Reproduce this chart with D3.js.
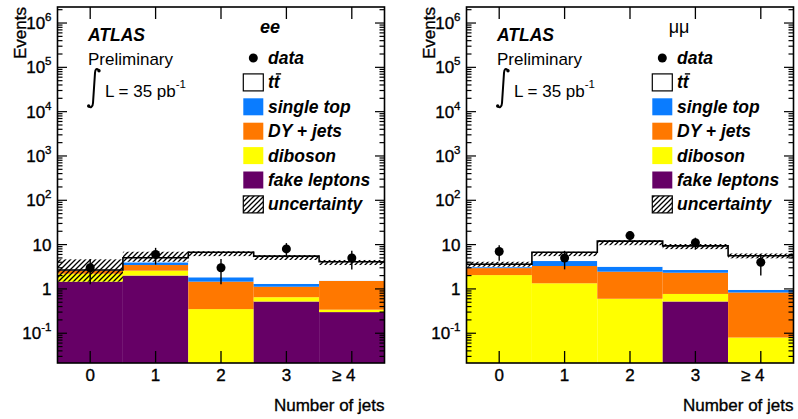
<!DOCTYPE html>
<html><head><meta charset="utf-8">
<script src="https://cdn.jsdelivr.net/npm/d3@7/dist/d3.min.js"></script>
<style>body{margin:0;background:#fff} svg{display:block} text{font-family:"Liberation Sans",Arial,Helvetica,sans-serif} text.reg{stroke:#000;stroke-width:0.35px}</style>
</head><body>
<svg id="c" width="798" height="419"></svg>
<script>
// ---- data ----
const categories = ["0", "1", "2", "3", "\u2265 4"];

// ee channel (stack components, bottom to top)
const eeFake      = [1.46, 2.00, 0.00, 0.52, 0.30];
const eeDiboson   = [0.74, 0.58, 0.35, 0.13, 0.04];
const eeDY        = [0.38, 0.88, 1.11, 0.47, 1.17];
const eeSingleTop = [0.03, 0.52, 0.37, 0.18, 0.02];
const eeTtbar     = [0.06, 1.07, 4.87, 4.20, 2.57];
const eeUncLow    = [1.46, 4.10, 5.50, 4.50, 3.46];
const eeUncHigh   = [4.65, 6.90, 7.10, 5.80, 4.50];
const eeData      = [3, 6, 3, 8, 5];
const eeDataErr   = [1.73, 2.45, 1.73, 2.83, 2.24];

// mumu channel
const mmFake      = [0.00, 0.00, 0.00, 0.52, 0.00];
const mmDiboson   = [2.05, 1.34, 0.60, 0.25, 0.08];
const mmDY        = [0.90, 1.95, 1.85, 1.55, 0.75];
const mmSingleTop = [0.15, 0.97, 0.72, 0.35, 0.12];
const mmTtbar     = [0.50, 2.44, 8.80, 6.70, 4.65];
const mmUncLow    = [3.17, 5.50, 9.70, 7.90, 4.90];
const mmUncHigh   = [4.10, 6.90, 12.6, 10.3, 6.30];
const mmData      = [7, 5, 16, 11, 4];
const mmDataErr   = [2.65, 2.24, 4.00, 3.32, 2.00];

const yTickExponents = [-1, 0, 1, 2, 3, 4, 5, 6];
const legendLabels = ["data", "tt", "single top", "DY + jets", "diboson", "fake leptons", "uncertainty"];
const compColors = ["#660066", "#ffff00", "#ff7800", "#0a7cff", "#ffffff"];

// ---- drawing ----
const svg = d3.select("#c");
const defs = svg.append("defs");
const pat = defs.append("pattern").attr("id", "hatch").attr("patternUnits", "userSpaceOnUse")
  .attr("width", 5).attr("height", 5);
pat.append("path").attr("d", "M-1,1 L1,-1 M0,5 L5,0 M4,6 L6,4")
  .attr("stroke", "#000").attr("stroke-width", 1.3);

const plotTop = 7, plotBottom = 363, panelW = 327;

function drawPanel(ox, ch) {
  const g = svg.append("g");
  const x0 = 57.5 + ox, x1 = x0 + panelW;
  const x = d3.scaleLinear().domain([-0.5, 4.5]).range([x0, x1]);
  const y = d3.scaleLog().domain([0.0213, 2.3e6]).range([plotBottom, plotTop]).clamp(true);
  const comps = [ch.fake, ch.diboson, ch.dy, ch.st, ch.tt];
  const totals = categories.map((c, i) => comps.reduce((s, a) => s + a[i], 0));

  // stacked bars
  categories.forEach((c, i) => {
    let cum = 0;
    comps.forEach((arr, k) => {
      const v = arr[i];
      const lo = cum; cum += v;
      if (v <= 0) return;
      const yTop = y(cum), yBot = lo > 0 ? y(lo) : plotBottom;
      g.append("rect").attr("x", x(i - 0.5)).attr("width", x(i + 0.5) - x(i - 0.5))
        .attr("y", yTop).attr("height", Math.max(0, yBot - yTop))
        .attr("fill", compColors[k]);
    });
  });

  // total step line
  const pts = [];
  totals.forEach((t, i) => { pts.push([i - 0.5, t]); pts.push([i + 0.5, t]); });
  g.append("path").attr("d", d3.line().x(d => x(d[0])).y(d => y(d[1]))(pts))
    .attr("fill", "none").attr("stroke", "#000").attr("stroke-width", 1.6);

  // uncertainty band
  categories.forEach((c, i) => {
    g.append("rect").attr("x", x(i - 0.5)).attr("width", x(i + 0.5) - x(i - 0.5))
      .attr("y", y(ch.uncHigh[i])).attr("height", y(ch.uncLow[i]) - y(ch.uncHigh[i]))
      .attr("fill", "url(#hatch)");
  });

  // data
  categories.forEach((c, i) => {
    g.append("line").attr("x1", x(i)).attr("x2", x(i))
      .attr("y1", y(ch.data[i] + ch.err[i])).attr("y2", y(ch.data[i] - ch.err[i]))
      .attr("stroke", "#000").attr("stroke-width", 1.4);
    g.append("circle").attr("cx", x(i)).attr("cy", y(ch.data[i])).attr("r", 4.5).attr("fill", "#000");
  });

  // frame
  g.append("rect").attr("x", x0).attr("y", plotTop).attr("width", x1 - x0).attr("height", plotBottom - plotTop)
    .attr("fill", "none").attr("stroke", "#000").attr("stroke-width", 1.6);

  // y ticks
  const [dmin, dmax] = y.domain();
  for (let e = -2; e <= 6; e++) {
    for (let m = 1; m <= 9; m++) {
      const v = m * Math.pow(10, e);
      if (v < dmin || v > dmax) continue;
      const len = m === 1 ? 9.5 : 5;
      const yy = y(v);
      g.append("line").attr("x1", x0).attr("x2", x0 + len).attr("y1", yy).attr("y2", yy).attr("stroke", "#000").attr("stroke-width", 1.2);
      g.append("line").attr("x1", x1).attr("x2", x1 - len).attr("y1", yy).attr("y2", yy).attr("stroke", "#000").attr("stroke-width", 1.2);
    }
  }
  // y tick labels
  yTickExponents.forEach(e => {
    const yy = y(Math.pow(10, e));
    const t = g.append("text").attr("class", "reg").attr("x", x0 - 6).attr("y", yy + 6).attr("text-anchor", "end")
      .attr("font-size", 17).attr("fill", "#000");
    if (e === 0) t.text("1");
    else if (e === 1) t.text("10");
    else {
      t.append("tspan").text("10");
      t.append("tspan").attr("font-size", 11.5).attr("dy", -8).text(String(e));
    }
  });

  // x ticks & labels
  categories.forEach((c, i) => {
    g.append("line").attr("x1", x(i)).attr("x2", x(i)).attr("y1", plotBottom).attr("y2", plotBottom - 12).attr("stroke", "#000").attr("stroke-width", 1.3);
    g.append("line").attr("x1", x(i)).attr("x2", x(i)).attr("y1", plotTop).attr("y2", plotTop + 12).attr("stroke", "#000").attr("stroke-width", 1.3);
    g.append("text").attr("class", "reg").attr("x", x(i) + (i === 4 ? -8 : 0)).attr("y", 381).attr("text-anchor", "middle")
      .attr("font-size", 17).text(c);
  });

  // axis titles
  g.append("text").attr("class", "reg").attr("x", x1).attr("y", 411).attr("text-anchor", "end").attr("font-size", 17).text("Number of jets");
  g.append("text").attr("class", "reg").attr("transform", `translate(${26 + ox},7) rotate(-90)`).attr("text-anchor", "end")
    .attr("font-size", 17).text("Events");

  // ATLAS labels
  g.append("text").attr("x", 88 + ox).attr("y", 41).attr("font-size", 17.5).attr("font-weight", "bold")
    .attr("font-style", "italic").text("ATLAS");
  g.append("text").attr("x", 88 + ox).attr("y", 65).attr("font-size", 17).text("Preliminary");
  g.append("path").attr("d", `M${99 + ox},70.5 C${97 + ox},67.5 ${95.2 + ox},69 ${95 + ox},73 L${93 + ox},103 C${92.8 + ox},107 ${90.5 + ox},108.5 ${88.5 + ox},106`)
    .attr("fill", "none").attr("stroke", "#000").attr("stroke-width", 2);
  g.append("circle").attr("cx", 99 + ox).attr("cy", 70.8).attr("r", 1.7);
  g.append("circle").attr("cx", 88.7 + ox).attr("cy", 106).attr("r", 1.7);
  const lt = g.append("text").attr("x", 105 + ox).attr("y", 97).attr("font-size", 17);
  lt.append("tspan").text("L = 35 pb");
  lt.append("tspan").attr("font-size", 11.5).attr("dy", -9).text("-1");

  // channel label
  const chl = g.append("text").attr("x", 270 + ox).attr("y", 33).attr("text-anchor", "middle").attr("font-size", 18).text(ch.label);
  if (ch.label === "ee") chl.attr("font-weight", "bold").attr("font-style", "italic");

  // legend
  const lx = 243.3 + ox, tx = 268 + ox;
  legendLabels.forEach((lab, k) => {
    const cy = 58 + 24.4 * k;
    if (k === 0) {
      g.append("circle").attr("cx", lx + 10).attr("cy", cy).attr("r", 4.5).attr("fill", "#000");
    } else {
      const fill = k === 6 ? "url(#hatch)" : compColors[5 - k];
      g.append("rect").attr("x", lx).attr("y", cy - 8.5).attr("width", 20).attr("height", 17)
        .attr("fill", fill).attr("stroke", (k === 1 || k === 6) ? "#000" : "none").attr("stroke-width", 1.2);
    }
    const t = g.append("text").attr("x", tx).attr("y", cy + 6).attr("font-size", 17.5)
      .attr("font-weight", "bold").attr("font-style", "italic").text(lab);
    if (k === 1) {
      const w1 = t.node().getSubStringLength(0, 1), w2 = t.node().getComputedTextLength();
      g.append("line").attr("x1", tx + w1 + 2).attr("x2", tx + w2 + 1.5).attr("y1", cy - 8.5).attr("y2", cy - 8.5)
        .attr("stroke", "#000").attr("stroke-width", 1.4);
    }
  });
}

drawPanel(0, { label: "ee", fake: eeFake, diboson: eeDiboson, dy: eeDY, st: eeSingleTop, tt: eeTtbar,
  uncLow: eeUncLow, uncHigh: eeUncHigh, data: eeData, err: eeDataErr });
drawPanel(409, { label: "\u03bc\u03bc", fake: mmFake, diboson: mmDiboson, dy: mmDY, st: mmSingleTop, tt: mmTtbar,
  uncLow: mmUncLow, uncHigh: mmUncHigh, data: mmData, err: mmDataErr });
</script>
</body></html>
